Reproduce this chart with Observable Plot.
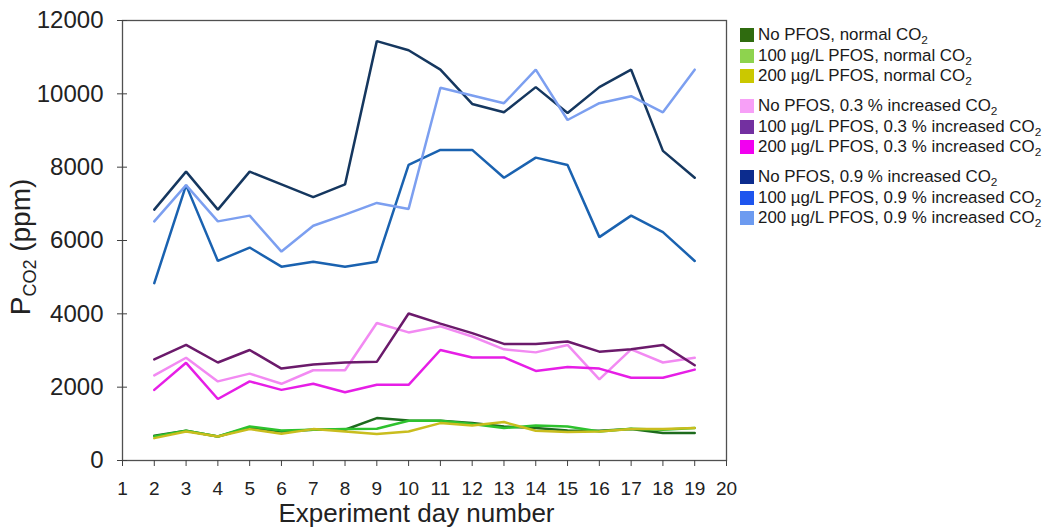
<!DOCTYPE html>
<html>
<head>
<meta charset="utf-8">
<script src="https://cdn.jsdelivr.net/npm/d3@7"></script>
<script src="https://cdn.jsdelivr.net/npm/@observablehq/plot@0.6"></script>
<style>
  html, body { margin: 0; padding: 0; background: #fff; }
  #wrap { position: relative; width: 1049px; height: 531px; font-family: "Liberation Sans", Arial, sans-serif; }
  #legend { position: absolute; left: 740px; top: 25px; font-size: 16.9px; color: #1a1a1a; }
  #legend .grp { margin-bottom: 9.5px; }
  #legend .row { display: flex; align-items: center; height: 20.5px; white-space: nowrap; }
  #legend .sw { width: 14px; height: 14px; margin-right: 4px; flex: none; }
  #legend sub { font-size: 0.7em; vertical-align: -0.3em; line-height: 0; }
</style>
</head>
<body>
<div id="wrap"></div>
<script>
// Experiment days with measurements
const days = [2, 3, 4, 5, 6, 7, 8, 9, 10, 11, 12, 13, 14, 15, 16, 17, 18, 19];

// Axis ticks
const dayTicks = d3.range(1, 21);
const yTicks = [0, 2000, 4000, 6000, 8000, 10000, 12000];

// pCO2 (ppm) per treatment
const noPfosNormal      = [675, 811, 656, 902, 793, 838, 838, 1157, 1093, 1084, 1020, 929, 884, 820, 811, 856, 747, 747];
const pfos100Normal     = [656, 811, 656, 929, 820, 838, 856, 866, 1084, 1084, 993, 884, 957, 929, 793, 866, 838, 884];
const pfos200Normal     = [610, 793, 656, 856, 729, 856, 793, 720, 793, 1020, 957, 1048, 811, 775, 793, 856, 856, 884];

const noPfos03          = [2323, 2802, 2157, 2369, 2092, 2461, 2461, 3751, 3493, 3659, 3382, 3032, 2949, 3152, 2212, 3032, 2673, 2802];
const pfos100_03        = [2756, 3152, 2673, 3014, 2507, 2617, 2673, 2691, 4009, 3733, 3475, 3180, 3180, 3244, 2968, 3032, 3152, 2599];
const pfos200_03        = [1926, 2664, 1677, 2157, 1926, 2092, 1862, 2064, 2064, 3014, 2811, 2811, 2442, 2553, 2507, 2258, 2258, 2479];

const noPfos09          = [6842, 7877, 6842, 7877, 7529, 7181, 7529, 11437, 11190, 10659, 9725, 9497, 10183, 9478, 10183, 10659, 8444, 7712];
const pfos100_09        = [4838, 7510, 5442, 5808, 5286, 5423, 5286, 5423, 8060, 8471, 8471, 7712, 8261, 8060, 6092, 6678, 6229, 5442];
const pfos200_09        = [6522, 7510, 6522, 6678, 5698, 6403, 6705, 7025, 6861, 10165, 9954, 9744, 10659, 9286, 9744, 9936, 9497, 10659];

// Legend entries (label before the CO2 subscript), grouped by CO2 level
const seriesNames = [
  "No PFOS, normal CO", "100 µg/L PFOS, normal CO", "200 µg/L PFOS, normal CO",
  "No PFOS, 0.3 % increased CO", "100 µg/L PFOS, 0.3 % increased CO", "200 µg/L PFOS, 0.3 % increased CO",
  "No PFOS, 0.9 % increased CO", "100 µg/L PFOS, 0.9 % increased CO", "200 µg/L PFOS, 0.9 % increased CO"
];
const seriesValues = [
  noPfosNormal, pfos100Normal, pfos200Normal,
  noPfos03, pfos100_03, pfos200_03,
  noPfos09, pfos100_09, pfos200_09
];
const lineColors = [
  "#1d6b1d", "#2ec22e", "#c9bd1e",
  "#f28af2", "#6b1a6b", "#e61ee6",
  "#15375f", "#1a62b0", "#7c9ff0"
];
const swatchColors = [
  "#2f6b0f", "#8ed34e", "#cbc800",
  "#f7a0f7", "#7330a0", "#f200f0",
  "#0c2c8e", "#1e55ee", "#6d9bf0"
];

// Long-format table for the line mark
const rows = [];
seriesValues.forEach((vals, i) => {
  vals.forEach((v, j) => rows.push({series: i, day: days[j], ppm: v}));
});

const font = "Liberation Sans, Arial, sans-serif";

const chart = Plot.plot({
  width: 1049,
  height: 531,
  marginLeft: 122,
  marginRight: 323,
  marginTop: 20,
  marginBottom: 71,
  style: {fontFamily: font, background: "#fff", overflow: "visible"},
  x: {domain: [1, 20]},
  y: {domain: [0, 12000]},
  marks: [
    Plot.frame({stroke: "#505050", strokeWidth: 1.3}),
    // y ticks crossing the axis, then their labels
    Plot.axisY({ticks: yTicks, tickSize: 10, dx: 5, fill: "none", stroke: "#404040", label: null}),
    Plot.axisY({ticks: yTicks, tickSize: 0, tickPadding: 19, fontSize: 24, fill: "#222", label: null, tickFormat: d => String(d)}),
    // x ticks below the axis, then their labels
    Plot.axisX({ticks: dayTicks, tickSize: 6, fill: "none", stroke: "#404040", label: null}),
    Plot.axisX({ticks: dayTicks, tickSize: 0, tickPadding: 21, fontSize: 19, fill: "#222", label: null, tickFormat: d => String(d)}),
    Plot.text(["Experiment day number"], {frameAnchor: "bottom", dy: 61, dx: -8, fontSize: 26, fill: "#222"}),
    Plot.line(rows, {
      x: "day", y: "ppm", z: "series",
      stroke: d => lineColors[d.series],
      strokeWidth: 2.5,
      strokeLinejoin: "miter",
      curve: "linear"
    })
  ]
});

document.getElementById("wrap").appendChild(chart);

// y-axis title with subscript
const svg = d3.select(chart);
const yl = svg.append("text")
  .attr("transform", "translate(30,247) rotate(-90)")
  .attr("text-anchor", "middle")
  .attr("font-family", font)
  .attr("font-size", 28)
  .attr("fill", "#222");
yl.append("tspan").text("P");
yl.append("tspan").attr("font-size", 18).attr("dy", 6).text("CO2");
yl.append("tspan").attr("dy", -6).text(" (ppm)");

// legend
const legend = d3.select("#wrap").append("div").attr("id", "legend");
[0, 3, 6].forEach(start => {
  const g = legend.append("div").attr("class", "grp");
  for (let i = start; i < start + 3; i++) {
    const r = g.append("div").attr("class", "row");
    r.append("div").attr("class", "sw").style("background", swatchColors[i]);
    const t = r.append("span");
    t.append("span").text(seriesNames[i]);
    t.append("sub").text("2");
  }
});
</script>
</body>
</html>
